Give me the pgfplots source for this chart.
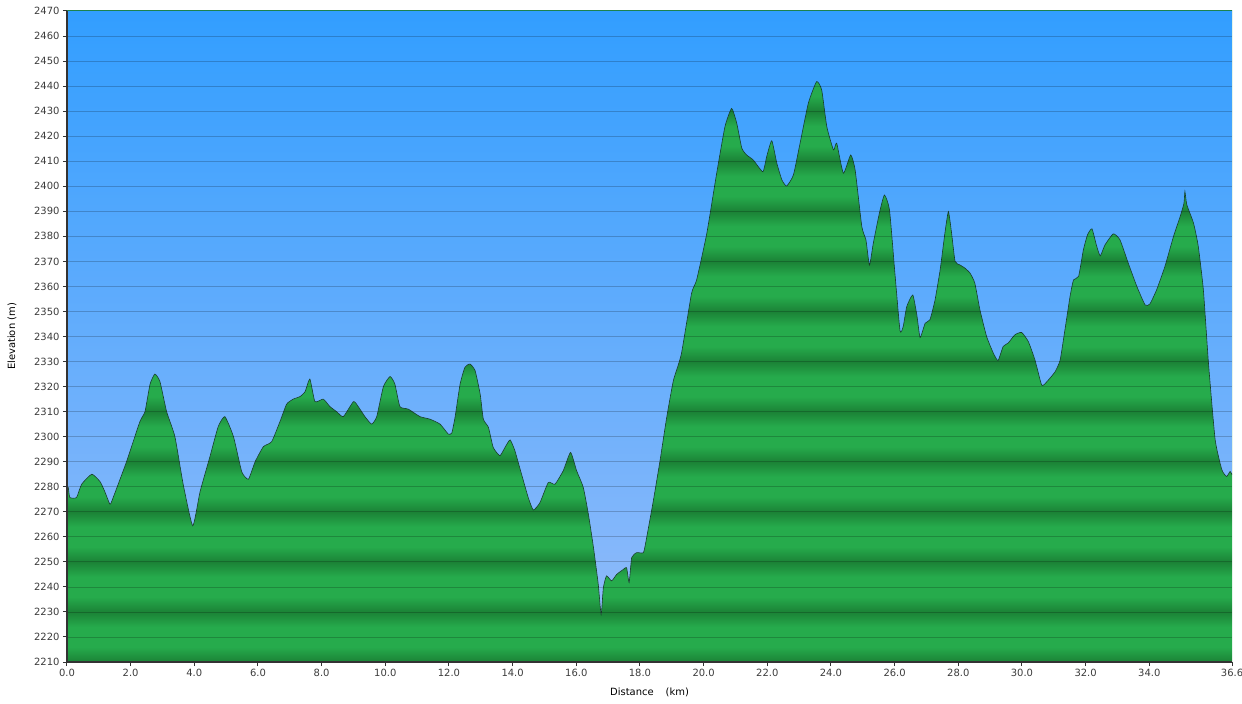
\documentclass[border=0pt]{standalone}
\usepackage{pgfplots}
\usepackage{pgfplotstable}
\pgfplotsset{compat=1.18}
\usepackage{fontspec}
\setmainfont{DejaVu Sans}

\definecolor{gL}{RGB}{38,171,76}
\definecolor{gD}{RGB}{27,130,54}
\definecolor{skyT}{RGB}{50,158,255}
\definecolor{skyB}{RGB}{142,186,250}
\definecolor{edge}{RGB}{22,62,38}
\definecolor{tk}{RGB}{60,60,60}

% green bands: dark every 20 m (2210, 2230, ...), light in between
\def\u{(50/260)}
\def\stripespec{color(0bp)=(gD); color(25bp)=(gD)}
\foreach \k in {0,...,12}{%
  \pgfmathsetmacro\pa{25+(20*\k+6)*\u}%
  \pgfmathsetmacro\pb{25+(20*\k+14)*\u}%
  \pgfmathsetmacro\pc{25+(20*\k+20)*\u}%
  \xdef\stripespec{\stripespec; color(\pa bp)=(gL); color(\pb bp)=(gL); color(\pc bp)=(gD)}%
}
\xdef\stripespec{\stripespec; color(100bp)=(gD)}
\edef\tmp{\noexpand\pgfdeclareverticalshading{stripes}{100bp}{\stripespec}}
\tmp

\pgfplotstableread{
d e
0.00 2280
0.04 2279.7
0.09 2275.7
0.30 2275.7
0.46 2281
0.78 2285
1.04 2282
1.19 2278
1.35 2273
1.46 2276
1.87 2290
2.29 2306
2.45 2310
2.61 2321
2.76 2325
2.92 2322
3.13 2310
3.39 2300
3.65 2281
3.95 2264.4
4.18 2278
4.49 2292
4.75 2304
4.96 2308
5.23 2300
5.49 2286
5.70 2283
5.91 2290
6.17 2296
6.43 2298
6.69 2306
6.90 2313
7.11 2315
7.32 2316
7.48 2318
7.63 2323
7.79 2314
8.05 2315
8.26 2312
8.47 2310
8.68 2308
9.00 2314
9.15 2312
9.36 2308
9.57 2305
9.73 2308
9.94 2320
10.15 2324
10.30 2321
10.46 2312
10.72 2311
11.09 2308
11.40 2307
11.72 2305
11.98 2301
12.09 2301.5
12.19 2307.7
12.35 2321
12.50 2327.7
12.66 2329
12.82 2326.4
12.98 2317
13.08 2307
13.24 2303.7
13.39 2295.7
13.60 2292.4
13.76 2295.7
13.92 2298.7
14.07 2294.4
14.28 2285
14.49 2275.7
14.65 2270.7
14.86 2273.7
15.12 2281.7
15.33 2281
15.59 2286.4
15.82 2293.7
16.01 2286.4
16.22 2279.7
16.38 2269
16.54 2255.7
16.69 2241
16.78 2229
16.85 2239.7
16.95 2244.4
17.11 2242.4
17.27 2245
17.48 2247
17.58 2247.7
17.66 2241.7
17.74 2251.7
17.90 2253.7
18.11 2253.7
18.21 2259.7
18.42 2274.4
18.63 2290.4
18.84 2307.7
19.05 2322.4
19.30 2333
19.62 2357.2
19.78 2362.6
20.10 2381.2
20.41 2405.2
20.67 2423.8
20.88 2431.1
21.04 2425.2
21.20 2415.2
21.35 2412.5
21.56 2410.5
21.86 2405.8
21.98 2411.8
22.14 2418.2
22.30 2409.2
22.46 2402.5
22.61 2400.1
22.82 2404.5
23.03 2417.2
23.29 2433.2
23.55 2441.8
23.71 2438.4
23.87 2423.8
24.08 2414.5
24.18 2417.2
24.39 2405.2
24.62 2412.5
24.76 2406.5
24.97 2383.9
25.10 2378.5
25.21 2368.5
25.33 2377.2
25.52 2389.2
25.68 2396.5
25.84 2390.5
26.01 2365.2
26.17 2342.3
26.27 2344
26.38 2351.9
26.57 2356.6
26.70 2348.5
26.80 2339.6
26.96 2345.3
27.11 2346.7
27.27 2354.6
27.43 2366.6
27.58 2381.3
27.69 2389.9
27.79 2381.3
27.90 2370
28.05 2368.6
28.21 2367.3
28.37 2365.3
28.52 2361.3
28.68 2350.7
28.89 2340
29.10 2333.4
29.25 2330.4
29.41 2336
29.57 2337.4
29.78 2340.7
29.99 2341.6
30.20 2338
30.41 2330.6
30.62 2320.6
30.78 2321.9
31.04 2325.9
31.20 2330.6
31.35 2342.6
31.51 2355.9
31.62 2362.6
31.78 2364
31.93 2374.6
32.06 2380.6
32.20 2383
32.35 2376
32.46 2372.2
32.61 2376.6
32.87 2381
33.08 2378.6
33.34 2369.3
33.61 2360
33.87 2352.6
34.02 2353
34.23 2358.6
34.49 2367.9
34.76 2379.9
34.97 2387.9
35.09 2393.2
35.12 2397.9
35.18 2392.6
35.39 2385.3
35.54 2376
35.70 2358.6
35.86 2329.4
36.07 2298.8
36.28 2286.8
36.43 2284.1
36.54 2286.1
36.60 2284.8
}\profile

\begin{document}
\begin{tikzpicture}
\begin{axis}[
    at={(0,0)}, anchor=south west,
    scale only axis,
    width=1165bp, height=651bp,
    xmin=0, xmax=36.6,
    ymin=2210, ymax=2470,
    xtick={0,2,...,34,36.6},
    ytick={2210,2220,...,2460},
    extra y ticks={2470},
    extra y tick style={grid=none},
    axis on top,
    axis x line*=bottom,
    axis y line*=left,
    axis line style={draw=black!80, line width=1.2bp},
    tick align=outside,
    major tick length=4bp,
    tick style={draw=black!80, line width=1bp},
    ymajorgrids=true,
    grid style={draw=black, opacity=0.2, line width=0.7bp},
    axis background/.style={shade, shading=stripes},
    /pgf/number format/assume math mode=true,
    /pgf/number format/1000 sep={},
    xticklabel style={/pgf/number format/.cd, fixed, fixed zerofill, precision=1},
    tick label style={font=\fontsize{10}{12}\selectfont, text=tk},
    xlabel={Distance\hspace{1.2em}(km)},
    ylabel={Elevation (m)},
    label style={font=\fontsize{9}{11}\selectfont, text=tk},
    every axis x label/.style={at={(axis description cs:0.5,-0.046)}, anchor=center},
    every axis y label/.style={at={(axis description cs:-0.0472,0.5)}, rotate=90, anchor=center},
]
% sky above the profile
\addplot[draw=none, top color=skyT, bottom color=skyB, smooth, tension=0.3]
    table[x=d, y=e] {\profile} -- (axis cs:36.6,2470) -- (axis cs:0,2470) -- cycle;
% profile outline
\addplot[draw=edge, line width=0.6bp, smooth, tension=0.3]
    table[x=d, y=e] {\profile};
\end{axis}
\pgfresetboundingbox
\path[use as bounding box] (-67bp,-42bp) rectangle (1175bp,662bp);
\end{tikzpicture}
\end{document}
